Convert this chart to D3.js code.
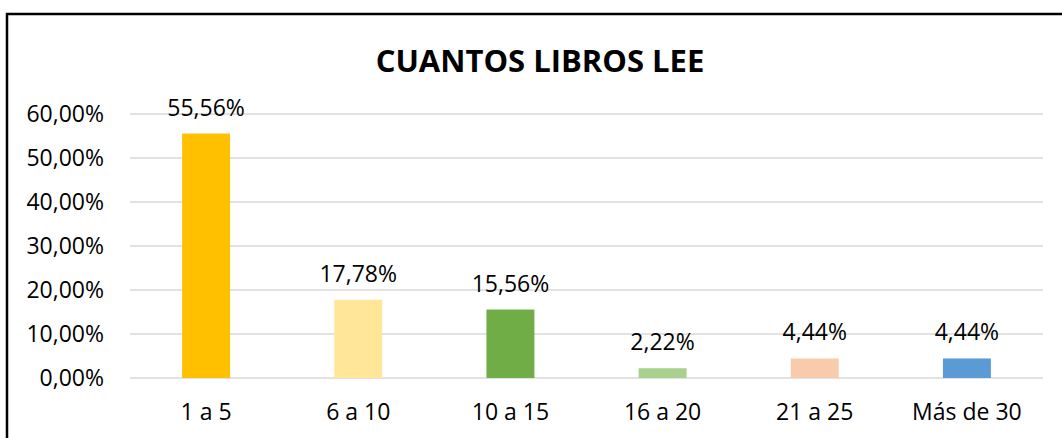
<!DOCTYPE html>
<meta charset="utf-8">
<style>
body {
  margin: 0;
  background: #fff;
  font-family: "Open Sans", sans-serif;
}
.grid line {
  stroke: #d9d9d9;
  stroke-width: 1.5px;
}
</style>
<body>
<script src="https://d3js.org/d3.v7.min.js"></script>
<script>

var categories = ["1 a 5", "6 a 10", "10 a 15", "16 a 20", "21 a 25", "Más de 30"];
var values = [0.5556, 0.1778, 0.1556, 0.0222, 0.0444, 0.0444];
var barColors = ["#FFC000", "#FFE699", "#70AD47", "#A9D18E", "#F8CBAD", "#5B9BD5"];
var yTicks = [0, 0.1, 0.2, 0.3, 0.4, 0.5, 0.6];
var title = "CUANTOS LIBROS LEE";

var width = 1062,
    height = 438;

var plotLeft = 130, plotRight = 1043, plotTop = 114, plotBottom = 378;

var es = d3.formatLocale({decimal: ",", thousands: ".", grouping: [3], currency: ["", "€"]});
var pct = es.format(".2%");

var svg = d3.select("body").append("svg")
    .attr("width", width)
    .attr("height", height);

// marco del gráfico
svg.append("rect")
  .attr("x", 7)
  .attr("y", 14)
  .attr("width", 1080)
  .attr("height", 460)
  .attr("fill", "none")
  .attr("stroke", "#000")
  .attr("stroke-width", 2.5);

svg.append("text")
  .attr("x", 540)
  .attr("y", 72)
  .attr("text-anchor", "middle")
  .style("font-size", "31px")
  .style("font-weight", "bold")
  .text(title);

var x = d3.scaleBand()
    .domain(categories)
    .range([plotLeft, plotRight])
    .paddingInner(0.685)
    .paddingOuter(0.3425);

var y = d3.scaleLinear()
    .domain([0, 0.6])
    .range([plotBottom, plotTop]);

var grid = svg.append("g").attr("class", "grid");
grid.selectAll("line")
  .data(yTicks)
  .enter().append("line")
  .attr("x1", plotLeft)
  .attr("x2", plotRight)
  .attr("y1", function(d){ return y(d); })
  .attr("y2", function(d){ return y(d); });

var yAxis = svg.append("g")
    .attr("transform", "translate(" + (plotLeft - 26) + ",0)")
    .call(d3.axisLeft(y).tickValues(yTicks).tickFormat(pct).tickSize(0).tickPadding(0));
yAxis.select(".domain").remove();
yAxis.selectAll("text")
  .style("font-family", "Open Sans")
  .style("font-size", "23px")
  .attr("fill", "#000");

var xAxis = svg.append("g")
    .attr("transform", "translate(0," + plotBottom + ")")
    .call(d3.axisBottom(x).tickSize(0).tickPadding(0));
xAxis.select(".domain").remove();
xAxis.selectAll("text")
  .attr("dy", null)
  .attr("y", 42)
  .style("font-family", "Open Sans")
  .style("font-size", "23px")
  .attr("fill", "#000");

svg.selectAll(".bar")
  .data(values)
  .enter().append("rect")
  .attr("class", "bar")
  .attr("x", function(d, i){ return x(categories[i]); })
  .attr("width", x.bandwidth())
  .attr("y", function(d){ return y(d); })
  .attr("height", function(d){ return plotBottom - y(d); })
  .attr("fill", function(d, i){ return barColors[i]; });

svg.selectAll(".label")
  .data(values)
  .enter().append("text")
  .attr("class", "label")
  .attr("x", function(d, i){ return x(categories[i]) + x.bandwidth() / 2; })
  .attr("y", function(d){ return y(d) - 18; })
  .attr("text-anchor", "middle")
  .style("font-size", "23px")
  .text(function(d){ return pct(d); });

</script>
